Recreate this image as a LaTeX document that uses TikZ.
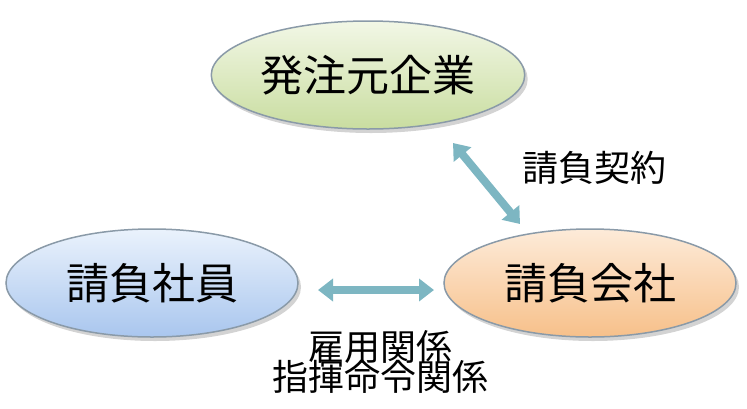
\documentclass[tikz,border=0pt]{standalone}
\usepackage{fontspec}
\setmainfont{Noto Sans CJK JP}
\usetikzlibrary{arrows.meta,shadows,shapes.geometric}
\definecolor{gA}{HTML}{C9DDA0}\definecolor{gB}{HTML}{F2F7E6}
\definecolor{bA}{HTML}{A9C6EE}\definecolor{bB}{HTML}{EAF2FC}
\definecolor{oA}{HTML}{F7C08A}\definecolor{oB}{HTML}{FDEBD9}
\definecolor{edge}{HTML}{8A9AA8}\definecolor{teal}{HTML}{7DB6C2}
\begin{document}
\begin{tikzpicture}[x=1pt,y=-1pt,
  ell/.style={ellipse,draw=edge,line width=1.5pt,minimum width=292pt,minimum height=108pt,font=\fontsize{43}{48}\selectfont,drop shadow={shadow xshift=3pt,shadow yshift=-4pt,opacity=0.35}},
  lab/.style={font=\fontsize{36}{40}\selectfont,align=center},
  arr/.style={draw=teal,line width=8pt,{Triangle[width=22pt,length=15pt]}-{Triangle[width=22pt,length=15pt]}}]
\useasboundingbox (0,0) rectangle (747,408);
\node[ell,top color=gB,bottom color=gA] (top) at (368,75) {発注元企業};
\node[ell,top color=bB,bottom color=bA] (left) at (152,283) {請負社員};
\node[ell,top color=oB,bottom color=oA] (right) at (590,283) {請負会社};
\coordinate (a1) at (453,143); \coordinate (a2) at (520,224);
\coordinate (b1) at (318,290); \coordinate (b2) at (434,290);
\draw[arr] (a1) -- (a2);
\draw[arr] (b1) -- (b2);
\node[lab] (l1) at (594,168) {請負契約};
\node[lab] (l2) at (380,362) {雇用関係\\[-10pt]指揮命令関係};
\end{tikzpicture}
\end{document}
